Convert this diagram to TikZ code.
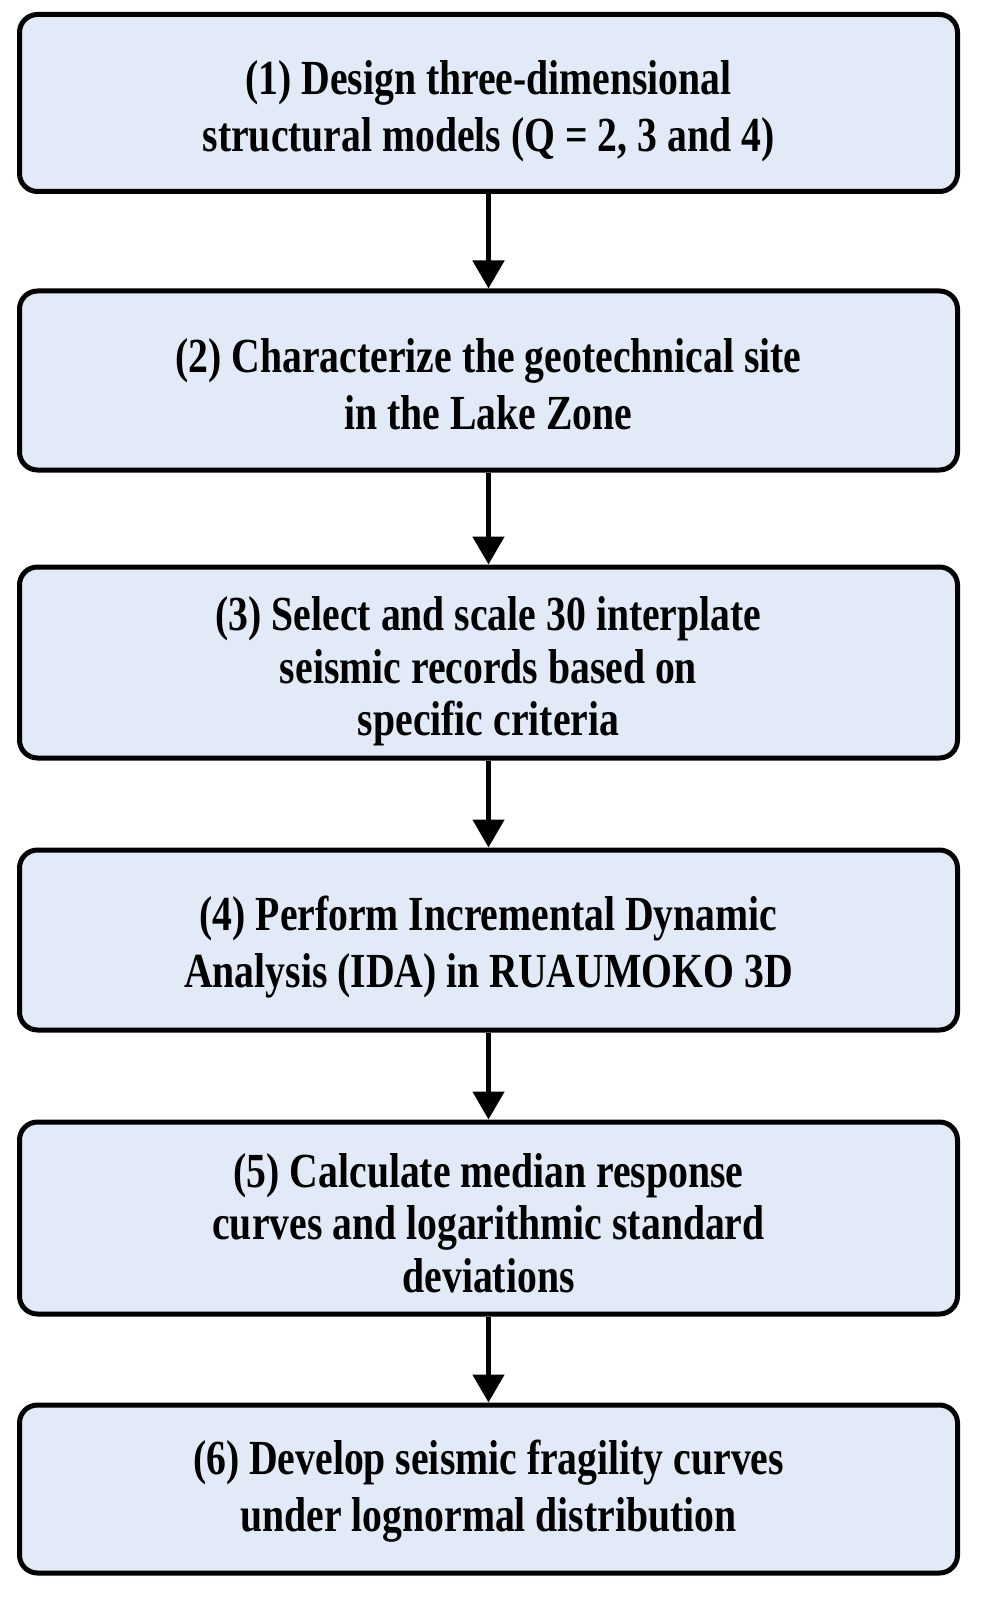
\documentclass[tikz,border=0pt]{standalone}
\usepackage{fontspec}
\newfontfamily\boxfont{Liberation Serif}[FakeStretch=0.81]
\usetikzlibrary{arrows.meta}
\definecolor{boxfill}{RGB}{225,234,246}
\tikzset{
  stepbox/.style={draw=black, line width=5pt, rounded corners=18pt, fill=boxfill,
    minimum width=938pt, inner sep=0pt},
  steptext/.style={align=center, inner sep=0pt,
    font=\boxfont\bfseries\fontsize{49}{57}\selectfont},
  steptextthree/.style={steptext, font=\boxfont\bfseries\fontsize{49}{52.5}\selectfont},
  flow/.style={line width=5pt, -{Triangle[width=31pt,length=28pt]}}
}
\begin{document}
\begin{tikzpicture}[x=1pt,y=-1pt]
\useasboundingbox (0,0) rectangle (981,1602);
\node[stepbox, minimum height=177pt] (s1) at (488.5,103) {};
\node[stepbox, minimum height=179pt] (s2) at (488.5,380.5) {};
\node[stepbox, minimum height=191pt] (s3) at (488.5,662.5) {};
\node[stepbox, minimum height=180pt] (s4) at (488.5,940) {};
\node[stepbox, minimum height=192pt] (s5) at (488.5,1218) {};
\node[stepbox, minimum height=168pt] (s6) at (488.5,1489) {};
\node[steptext] (t1) at ([yshift=-8.7pt]s1.center) {(1) Design three-dimensional\\structural models (Q = 2, 3 and 4)};
\node[steptext] (t2) at ([yshift=-3.6pt]s2.center) {(2) Characterize the geotechnical site\\in the Lake Zone};
\node[steptextthree] (t3) at ([yshift=-9.2pt]s3.center) {(3) Select and scale 30 interplate\\seismic records based on\\specific criteria};
\node[steptext] (t4) at ([yshift=-7.2pt]s4.center) {(4) Perform Incremental Dynamic\\Analysis (IDA) in RUAUMOKO 3D};
\node[steptextthree] (t5) at ([yshift=-5.1pt]s5.center) {(5) Calculate median response\\curves and logarithmic standard\\deviations};
\node[steptext] (t6) at ([yshift=-2pt]s6.center) {(6) Develop seismic fragility curves\\under lognormal distribution};
\draw[flow] (s1.south) -- (s2.north);
\draw[flow] (s2.south) -- (s3.north);
\draw[flow] (s3.south) -- (s4.north);
\draw[flow] (s4.south) -- (s5.north);
\draw[flow] (s5.south) -- (s6.north);
\end{tikzpicture}
\end{document}
